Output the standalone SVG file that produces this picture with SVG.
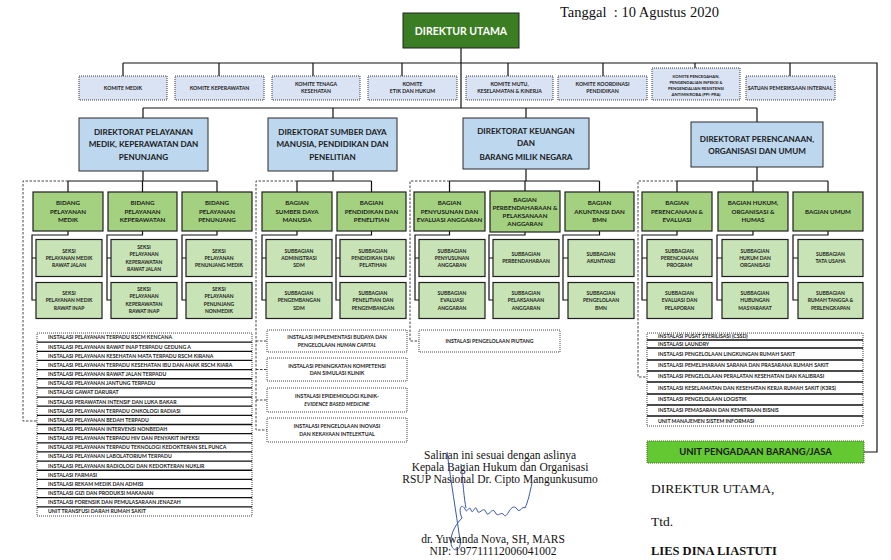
<svg xmlns="http://www.w3.org/2000/svg" width="891" height="560" viewBox="0 0 891 560">
<style>
.t{font-family:Lato,'Open Sans','Liberation Sans',sans-serif;font-weight:700;fill:#1a1a1a;text-anchor:middle}
.kom rect{fill:#dae3f3;stroke:#3a3a3a;stroke-width:1;stroke-dasharray:1 1}
.k{font-size:5.2px}
.k4{font-size:4.2px}
.dir rect{fill:#bdd7ee;stroke:#2b2b2b;stroke-width:1}
.d{font-size:8.1px}
.bid rect{fill:#a3d17f;stroke:#1f1f1f;stroke-width:1.2}
.b{font-size:6.2px}
.sek rect{fill:#c8e3b5;stroke:#1f1f1f;stroke-width:1.2}
.s{font-size:5px}
.ins rect{fill:#fff;stroke:#444;stroke-width:1;stroke-dasharray:1 1}
.i{font-size:5.2px}
.il{font-size:5.2px;text-anchor:start}
.ln{fill:none;stroke:#111;stroke-width:1.2}
.dash{fill:none;stroke:#444;stroke-width:1;stroke-dasharray:2.5 1.5}
.sep{stroke:#111;stroke-width:1.3}
.serif{font-family:'Liberation Serif','Times New Roman',serif;fill:#111}
</style>

<text class="serif" x="560" y="17" font-size="14.5" xml:space="preserve">Tanggal  : 10 Agustus 2020</text>

<g id="connectors">
  <path class="ln" d="M461,48V108"/>
  <path class="ln" d="M123,63H877V452H864"/>
  <path class="ln" d="M123,63V76M219,63V76M313,63V76M402,63V76M508,63V76M603,63V76M695,63V68M790,63V76"/>
  <path class="ln" d="M143,108H757M143,108V118M333,108V118M526,108V118M757,108V122"/>
  <path class="ln" d="M143,171V181M333,171V181M526,169V181M757,167V181"/>
  <path class="ln" d="M68,181H217M68,181V192M142.5,181V192M217,181V192"/>
  <path class="ln" d="M297,181H371.5M297,181V192M371.5,181V192"/>
  <path class="ln" d="M449.5,181H599.5M449.5,181V192M525,181V191M599.5,181V192"/>
  <path class="ln" d="M677,181H828M677,181V192M753,181V192M828,181V192"/>
  <path class="ln" d="M68,231V235H32V300H36M32,258H36"/>
  <path class="ln" d="M142.5,231V235H107V300H111M107,258H111"/>
  <path class="ln" d="M217,231V235H182V300H186M182,258H186"/>
  <path class="ln" d="M297,231V235H262V300H266M262,258H266"/>
  <path class="ln" d="M371.5,231V235H336V300H340M336,258H340"/>
  <path class="ln" d="M449.5,231V235H415V300H419M415,258H419"/>
  <path class="ln" d="M525,232V235H489V300H493M489,258H493"/>
  <path class="ln" d="M599.5,231V235H563V300H568M563,258H568"/>
  <path class="ln" d="M677,231V235H642V300H647M642,258H647"/>
  <path class="ln" d="M753,231V235H717V300H722M717,258H722"/>
  <path class="ln" d="M828,231V235H793V300H798M793,258H798"/>
  <path class="dash" d="M68,181H23V421H37"/>
  <path class="dash" d="M297,181H256V430H267M256,341H267M256,369.5H267M256,400H267"/>
  <path class="dash" d="M449.5,181H410V341H419"/>
  <path class="dash" d="M677,181H638V377H647"/>
</g>

<g id="direktur-utama">
  <rect x="403" y="13" width="116" height="35" fill="#3b7d23" stroke="#222" stroke-width="1"/>
  <text class="t" x="461" y="34.5" font-size="10.5" style="fill:#fff">DIREKTUR UTAMA</text>
</g>

<g id="komite-medik" class="kom"><rect x="79" y="76" width="88" height="24"/><text class="t k" x="123" y="89.8">KOMITE MEDIK</text></g>
<g id="komite-keperawatan" class="kom"><rect x="175" y="76" width="89" height="24"/><text class="t k" x="219.5" y="89.8">KOMITE KEPERAWATAN</text></g>
<g id="komite-tenaga" class="kom"><rect x="272" y="76" width="88" height="24"/><text class="t k"><tspan x="316" y="86.3">KOMITE TENAGA</tspan><tspan x="316" y="93.3">KESEHATAN</tspan></text></g>
<g id="komite-etik" class="kom"><rect x="368" y="76" width="89" height="24"/><text class="t k"><tspan x="412.5" y="86.3">KOMITE</tspan><tspan x="412.5" y="93.3">ETIK DAN HUKUM</tspan></text></g>
<g id="komite-mutu" class="kom"><rect x="466" y="76" width="87" height="24"/><text class="t k"><tspan x="509.5" y="86.3">KOMITE MUTU,</tspan><tspan x="509.5" y="93.3">KESELAMATAN &amp; KINERJA</tspan></text></g>
<g id="komite-koordinasi" class="kom"><rect x="558" y="76" width="89" height="24"/><text class="t k"><tspan x="602.5" y="86.3">KOMITE KOORDINASI</tspan><tspan x="602.5" y="93.3">PENDIDIKAN</tspan></text></g>
<g id="komite-ppi" class="kom"><rect x="652" y="68" width="88" height="32"/><text class="t k4"><tspan x="696" y="78">KOMITE PENCEGAHAN,</tspan><tspan x="696" y="84">PENGENDALIAN INFEKSI &amp;</tspan><tspan x="696" y="90">PENGENDALIAN RESISTENSI</tspan><tspan x="696" y="96">ANTIMIKROBA (PPI-PRA)</tspan></text></g>
<g id="spi" class="kom"><rect x="746" y="76" width="89" height="24"/><text class="t k" x="790" y="89.8">SATUAN PEMERIKSAAN INTERNAL</text></g>

<g id="dir-pelayanan" class="dir"><rect x="79" y="118" width="129" height="53"/><text class="t d"><tspan x="143.5" y="134.7">DIREKTORAT PELAYANAN</tspan><tspan x="143.5" y="147.2">MEDIK, KEPERAWATAN DAN</tspan><tspan x="143.5" y="159.7">PENUNJANG</tspan></text></g>
<g id="dir-sdm" class="dir"><rect x="268" y="118" width="129" height="53"/><text class="t d"><tspan x="332.5" y="134.7">DIREKTORAT SUMBER DAYA</tspan><tspan x="332.5" y="147.2">MANUSIA, PENDIDIKAN DAN</tspan><tspan x="332.5" y="159.7">PENELITIAN</tspan></text></g>
<g id="dir-keuangan" class="dir"><rect x="463" y="118" width="126" height="51"/><text class="t d"><tspan x="526" y="134.2">DIREKTORAT KEUANGAN</tspan><tspan x="526" y="145.7">DAN</tspan><tspan x="526" y="159.7">BARANG MILIK NEGARA</tspan></text></g>
<g id="dir-perencanaan" class="dir"><rect x="691" y="122" width="132" height="45"/><text class="t d"><tspan x="757" y="141.7">DIREKTORAT PERENCANAAN,</tspan><tspan x="757" y="153.7">ORGANISASI DAN UMUM</tspan></text></g>

<g id="bid-medik" class="bid"><rect x="33" y="192" width="70" height="39"/><text class="t b"><tspan x="68" y="205.2">BIDANG</tspan><tspan x="68" y="213.7">PELAYANAN</tspan><tspan x="68" y="222.2">MEDIK</tspan></text></g>
<g id="bid-keperawatan" class="bid"><rect x="108" y="192" width="69" height="39"/><text class="t b"><tspan x="142.5" y="205.2">BIDANG</tspan><tspan x="142.5" y="213.7">PELAYANAN</tspan><tspan x="142.5" y="222.2">KEPERAWATAN</tspan></text></g>
<g id="bid-penunjang" class="bid"><rect x="182" y="192" width="70" height="39"/><text class="t b"><tspan x="217" y="205.2">BIDANG</tspan><tspan x="217" y="213.7">PELAYANAN</tspan><tspan x="217" y="222.2">PENUNJANG</tspan></text></g>

<g id="sek-medik-rj" class="sek"><rect x="36" y="239.5" width="66" height="37"/><text class="t s"><tspan x="69" y="252.5">SEKSI</tspan><tspan x="69" y="259.8">PELAYANAN MEDIK</tspan><tspan x="69" y="267.1">RAWAT JALAN</tspan></text></g>
<g id="sek-medik-ri" class="sek"><rect x="36" y="282.5" width="66" height="36"/><text class="t s"><tspan x="69" y="294.5">SEKSI</tspan><tspan x="69" y="302">PELAYANAN MEDIK</tspan><tspan x="69" y="309.5">RAWAT INAP</tspan></text></g>
<g id="sek-kep-rj" class="sek"><rect x="111" y="239.5" width="66" height="37"/><text class="t s"><tspan x="144" y="248.5">SEKSI</tspan><tspan x="144" y="256">PELAYANAN</tspan><tspan x="144" y="263.5">KEPERAWATAN</tspan><tspan x="144" y="271">RAWAT JALAN</tspan></text></g>
<g id="sek-kep-ri" class="sek"><rect x="111" y="282.5" width="66" height="36"/><text class="t s"><tspan x="144" y="290.8">SEKSI</tspan><tspan x="144" y="298.3">PELAYANAN</tspan><tspan x="144" y="305.8">KEPERAWATAN</tspan><tspan x="144" y="313.3">RAWAT INAP</tspan></text></g>
<g id="sek-pen-medik" class="sek"><rect x="186" y="239.5" width="66" height="37"/><text class="t s"><tspan x="219" y="252.5">SEKSI</tspan><tspan x="219" y="259.8">PELAYANAN</tspan><tspan x="219" y="267.1">PENUNJANG MEDIK</tspan></text></g>
<g id="sek-pen-nonmedik" class="sek"><rect x="186" y="282.5" width="66" height="36"/><text class="t s"><tspan x="219" y="290.8">SEKSI</tspan><tspan x="219" y="298.3">PELAYANAN</tspan><tspan x="219" y="305.8">PENUNJANG</tspan><tspan x="219" y="313.3">NONMEDIK</tspan></text></g>

<g id="bag-sdm" class="bid"><rect x="262" y="192" width="70" height="39"/><text class="t b"><tspan x="297" y="205.2">BAGIAN</tspan><tspan x="297" y="213.7">SUMBER DAYA</tspan><tspan x="297" y="222.2">MANUSIA</tspan></text></g>
<g id="bag-diklit" class="bid"><rect x="337" y="192" width="69" height="39"/><text class="t b"><tspan x="371.5" y="205.2">BAGIAN</tspan><tspan x="371.5" y="213.7">PENDIDIKAN DAN</tspan><tspan x="371.5" y="222.2">PENELITIAN</tspan></text></g>
<g id="sub-adm-sdm" class="sek"><rect x="266" y="239.5" width="66" height="37"/><text class="t s"><tspan x="299" y="252.5">SUBBAGIAN</tspan><tspan x="299" y="259.8">ADMINISTRASI</tspan><tspan x="299" y="267.1">SDM</tspan></text></g>
<g id="sub-dik-lat" class="sek"><rect x="340" y="239.5" width="66" height="37"/><text class="t s"><tspan x="373" y="252.5">SUBBAGIAN</tspan><tspan x="373" y="259.8">PENDIDIKAN DAN</tspan><tspan x="373" y="267.1">PELATIHAN</tspan></text></g>
<g id="sub-peng-sdm" class="sek"><rect x="266" y="282.5" width="66" height="36"/><text class="t s"><tspan x="299" y="294.5">SUBBAGIAN</tspan><tspan x="299" y="302">PENGEMBANGAN</tspan><tspan x="299" y="309.5">SDM</tspan></text></g>
<g id="sub-lit-bang" class="sek"><rect x="340" y="282.5" width="66" height="36"/><text class="t s"><tspan x="373" y="294.5">SUBBAGIAN</tspan><tspan x="373" y="302">PENELITIAN DAN</tspan><tspan x="373" y="309.5">PENGEMBANGAN</tspan></text></g>

<g id="bag-anggaran" class="bid"><rect x="414" y="192" width="71" height="39"/><text class="t b"><tspan x="449.5" y="205.2">BAGIAN</tspan><tspan x="449.5" y="213.7">PENYUSUNAN DAN</tspan><tspan x="449.5" y="222.2">EVALUASI ANGGARAN</tspan></text></g>
<g id="bag-perbendaharaan" class="bid"><rect x="490" y="191" width="70" height="41"/><text class="t b"><tspan x="525" y="201.7">BAGIAN</tspan><tspan x="525" y="209.7">PERBENDAHARAAN &amp;</tspan><tspan x="525" y="217.7">PELAKSANAAN</tspan><tspan x="525" y="225.7">ANGGARAN</tspan></text></g>
<g id="bag-akuntansi" class="bid"><rect x="565" y="192" width="69" height="39"/><text class="t b"><tspan x="599.5" y="205.2">BAGIAN</tspan><tspan x="599.5" y="213.7">AKUNTANSI DAN</tspan><tspan x="599.5" y="222.2">BMN</tspan></text></g>
<g id="sub-penyusunan" class="sek"><rect x="419" y="239.5" width="66" height="37"/><text class="t s"><tspan x="452" y="252.5">SUBBAGIAN</tspan><tspan x="452" y="259.8">PENYUSUNAN</tspan><tspan x="452" y="267.1">ANGGARAN</tspan></text></g>
<g id="sub-perbendaharaan" class="sek"><rect x="493" y="239.5" width="66" height="37"/><text class="t s"><tspan x="526" y="256">SUBBAGIAN</tspan><tspan x="526" y="263.4">PERBENDAHARAAN</tspan></text></g>
<g id="sub-akuntansi" class="sek"><rect x="568" y="239.5" width="66" height="37"/><text class="t s"><tspan x="601" y="256">SUBBAGIAN</tspan><tspan x="601" y="263.4">AKUNTANSI</tspan></text></g>
<g id="sub-evaluasi-anggaran" class="sek"><rect x="419" y="282.5" width="66" height="36"/><text class="t s"><tspan x="452" y="294.5">SUBBAGIAN</tspan><tspan x="452" y="302">EVALUASI</tspan><tspan x="452" y="309.5">ANGGARAN</tspan></text></g>
<g id="sub-pelaksanaan" class="sek"><rect x="493" y="282.5" width="66" height="36"/><text class="t s"><tspan x="526" y="294.5">SUBBAGIAN</tspan><tspan x="526" y="302">PELAKSANAAN</tspan><tspan x="526" y="309.5">ANGGARAN</tspan></text></g>
<g id="sub-bmn" class="sek"><rect x="568" y="282.5" width="66" height="36"/><text class="t s"><tspan x="601" y="294.5">SUBBAGIAN</tspan><tspan x="601" y="302">PENGELOLAAN</tspan><tspan x="601" y="309.5">BMN</tspan></text></g>

<g id="bag-perencanaan" class="bid"><rect x="642" y="192" width="70" height="39"/><text class="t b"><tspan x="677" y="205.2">BAGIAN</tspan><tspan x="677" y="213.7">PERENCANAAN &amp;</tspan><tspan x="677" y="222.2">EVALUASI</tspan></text></g>
<g id="bag-hukum" class="bid"><rect x="718" y="192" width="70" height="39"/><text class="t b"><tspan x="753" y="205.2">BAGIAN HUKUM,</tspan><tspan x="753" y="213.7">ORGANISASI &amp;</tspan><tspan x="753" y="222.2">HUMAS</tspan></text></g>
<g id="bag-umum" class="bid"><rect x="793" y="192" width="70" height="39"/><text class="t b" x="828" y="213.7">BAGIAN UMUM</text></g>
<g id="sub-program" class="sek"><rect x="647" y="239.5" width="65" height="37"/><text class="t s"><tspan x="679.5" y="252.5">SUBBAGIAN</tspan><tspan x="679.5" y="259.8">PERENCANAAN</tspan><tspan x="679.5" y="267.1">PROGRAM</tspan></text></g>
<g id="sub-hukum" class="sek"><rect x="722" y="239.5" width="66" height="37"/><text class="t s"><tspan x="755" y="252.5">SUBBAGIAN</tspan><tspan x="755" y="259.8">HUKUM DAN</tspan><tspan x="755" y="267.1">ORGANISASI</tspan></text></g>
<g id="sub-tu" class="sek"><rect x="798" y="239.5" width="65" height="37"/><text class="t s"><tspan x="830.5" y="256">SUBBAGIAN</tspan><tspan x="830.5" y="263.4">TATA USAHA</tspan></text></g>
<g id="sub-pelaporan" class="sek"><rect x="647" y="282.5" width="65" height="36"/><text class="t s"><tspan x="679.5" y="294.5">SUBBAGIAN</tspan><tspan x="679.5" y="302">EVALUASI DAN</tspan><tspan x="679.5" y="309.5">PELAPORAN</tspan></text></g>
<g id="sub-humas" class="sek"><rect x="722" y="282.5" width="66" height="36"/><text class="t s"><tspan x="755" y="294.5">SUBBAGIAN</tspan><tspan x="755" y="302">HUBUNGAN</tspan><tspan x="755" y="309.5">MASYARAKAT</tspan></text></g>
<g id="sub-rt" class="sek"><rect x="798" y="282.5" width="65" height="36"/><text class="t s"><tspan x="830.5" y="294.5">SUBBAGIAN</tspan><tspan x="830.5" y="302">RUMAH TANGGA &amp;</tspan><tspan x="830.5" y="309.5">PERLENGKAPAN</tspan></text></g>

<g id="instalasi-pelayanan" class="ins">
  <rect x="37" y="333" width="215" height="183"/>
  <path class="sep" d="M37,342.15H252M37,351.3H252M37,360.45H252M37,369.6H252M37,378.75H252M37,387.9H252M37,397.05H252M37,406.2H252M37,415.35H252M37,424.5H252M37,433.65H252M37,442.8H252M37,451.95H252M37,461.1H252M37,470.25H252M37,479.4H252M37,488.55H252M37,497.7H252M37,506.85H252"/>
  <text class="t il" x="48" y="339.4">INSTALASI PELAYANAN TERPADU RSCM KENCANA</text>
  <text class="t il" x="48" y="348.6">INSTALASI PELAYANAN RAWAT INAP TERPADU GEDUNG A</text>
  <text class="t il" x="48" y="357.7">INSTALASI PELAYANAN KESEHATAN MATA TERPADU RSCM KIRANA</text>
  <text class="t il" x="48" y="366.9">INSTALASI PELAYANAN TERPADU KESEHATAN IBU DAN ANAK RSCM KIARA</text>
  <text class="t il" x="48" y="376">INSTALASI PELAYANAN RAWAT JALAN TERPADU</text>
  <text class="t il" x="48" y="385.2">INSTALASI PELAYANAN JANTUNG TERPADU</text>
  <text class="t il" x="48" y="394.3">INSTALASI GAWAT DARURAT</text>
  <text class="t il" x="48" y="403.5">INSTALASI PERAWATAN INTENSIF DAN LUKA BAKAR</text>
  <text class="t il" x="48" y="412.6">INSTALASI PELAYANAN TERPADU ONKOLOGI RADIASI</text>
  <text class="t il" x="48" y="421.8">INSTALASI PELAYANAN BEDAH TERPADU</text>
  <text class="t il" x="48" y="430.9">INSTALASI PELAYANAN INTERVENSI NONBEDAH</text>
  <text class="t il" x="48" y="440.1">INSTALASI PELAYANAN TERPADU HIV DAN PENYAKIT INFEKSI</text>
  <text class="t il" x="48" y="449.2">INSTALASI PELAYANAN TERPADU TEKNOLOGI KEDOKTERAN SEL PUNCA</text>
  <text class="t il" x="48" y="458.4">INSTALASI PELAYANAN LABOLATORIUM TERPADU</text>
  <text class="t il" x="48" y="467.5">INSTALASI PELAYANAN RADIOLOGI DAN KEDOKTERAN NUKLIR</text>
  <text class="t il" x="48" y="476.7">INSTALASI FARMASI</text>
  <text class="t il" x="48" y="485.8">INSTALASI REKAM MEDIK DAN ADMISI</text>
  <text class="t il" x="48" y="495">INSTALASI GIZI DAN PRODUKSI MAKANAN</text>
  <text class="t il" x="48" y="504.1">INSTALASI FORENSIK DAN PEMULASARAAN JENAZAH</text>
  <text class="t il" x="48" y="513.3">UNIT TRANSFUSI DARAH RUMAH SAKIT</text>
</g>

<g id="ins-budaya" class="ins"><rect x="267" y="330" width="140" height="22"/><text class="t i"><tspan x="337" y="339.3">INSTALASI IMPLEMENTASI BUDAYA DAN</tspan><tspan x="337" y="346.6">PENGELOLAAN <tspan font-style="italic">HUMAN CAPITAL</tspan></tspan></text></g>
<g id="ins-kompetensi" class="ins"><rect x="267" y="358" width="140" height="23"/><text class="t i"><tspan x="337" y="367.8">INSTALASI PENINGKATAN KOMPETENSI</tspan><tspan x="337" y="375.1">DAN SIMULASI KLINIK</tspan></text></g>
<g id="ins-epidemiologi" class="ins"><rect x="267" y="388" width="140" height="24"/><text class="t i"><tspan x="337" y="398.3">INSTALASI EPIDEMIOLOGI KLINIK-</tspan><tspan x="337" y="405.6" font-style="italic">EVIDENCE BASED MEDICINE</tspan></text></g>
<g id="ins-inovasi" class="ins"><rect x="267" y="418" width="140" height="24"/><text class="t i"><tspan x="337" y="428.3">INSTALASI PENGELOLAAN INOVASI</tspan><tspan x="337" y="435.6">DAN KEKAYAAN INTELEKTUAL</tspan></text></g>

<g id="ins-piutang" class="ins"><rect x="419" y="330" width="141" height="22"/><text class="t i" x="489.5" y="342.8" font-size="5.4">INSTALASI PENGELOLAAN PIUTANG</text></g>

<g id="instalasi-umum" class="ins">
  <rect x="647" y="333" width="216" height="93"/>
  <path class="sep" d="M647,340H863M647,348H863M647,360H863M647,371H863M647,382H863M647,394H863M647,405H863M647,416H863"/>
  <text class="t il" x="658" y="338.3">INSTALASI PUSAT STERILISASI (CSSD)</text>
  <text class="t il" x="658" y="345.8">INSTALASI LAUNDRY</text>
  <text class="t il" x="658" y="355.8">INSTALASI PENGELOLAAN LINGKUNGAN RUMAH SAKIT</text>
  <text class="t il" x="658" y="367.3">INSTALASI PEMELIHARAAN SARANA DAN PRASARANA RUMAH SAKIT</text>
  <text class="t il" x="658" y="378.3">INSTALASI PENGELOLAAN PERALATAN KESEHATAN DAN KALIBRASI</text>
  <text class="t il" x="658" y="389.8">INSTALASI KESELAMATAN DAN KESEHATAN KERJA RUMAH SAKIT (K3RS)</text>
  <text class="t il" x="658" y="401.3">INSTALASI PENGELOLAAN LOGISTIK</text>
  <text class="t il" x="658" y="412.3">INSTALASI PEMASARAN DAN KEMITRAAN BISNIS</text>
  <text class="t il" x="658" y="422.8">UNIT MANAJEMEN SISTEM INFORMASI</text>
</g>

<g id="unit-pengadaan">
  <rect x="647" y="441" width="217" height="22" fill="#64c832" stroke="#3d6b22" stroke-width="1" stroke-dasharray="1 1"/>
  <text class="t" x="755.5" y="455.4" font-size="9.5">UNIT PENGADAAN BARANG/JASA</text>
</g>

<g id="pengesahan">
  <text class="serif" font-size="11.5" text-anchor="middle"><tspan x="500" y="459">Salinan ini sesuai dengan aslinya</tspan><tspan x="500" y="471">Kepala Bagian Hukum dan Organisasi</tspan><tspan x="500" y="483">RSUP Nasional Dr. Cipto Mangunkusumo</tspan></text>
  <path d="M447,452C451,482 456,512 460,540C462,552 452,553 451,543C450,532 458,522 462,518C458,510 461,502 465,509C467,515 469,504 471,510C473,516 475,503 477,510C479,517 483,505 486,512C488,519 492,506 495,512C498,519 501,510 504,515C507,520 511,501 517,509C520,514 522,505 525,508C528,502 530,492 532,483M466,508C464,499 463,482 461,464" fill="none" stroke="#3b56b0" stroke-width="1"/>
  <text class="serif" font-size="11.5" text-anchor="middle"><tspan x="493" y="543">dr. Yuwanda Nova, SH, MARS</tspan><tspan x="493" y="555">NIP: 197711112006041002</tspan></text>
</g>

<g id="penetapan">
  <text class="serif" x="651" y="493" font-size="13.5">DIREKTUR UTAMA,</text>
  <text class="serif" x="651" y="526" font-size="13.5">Ttd.</text>
  <text class="serif" x="651" y="555" font-size="12.5" font-weight="700">LIES DINA LIASTUTI</text>
</g>
</svg>
